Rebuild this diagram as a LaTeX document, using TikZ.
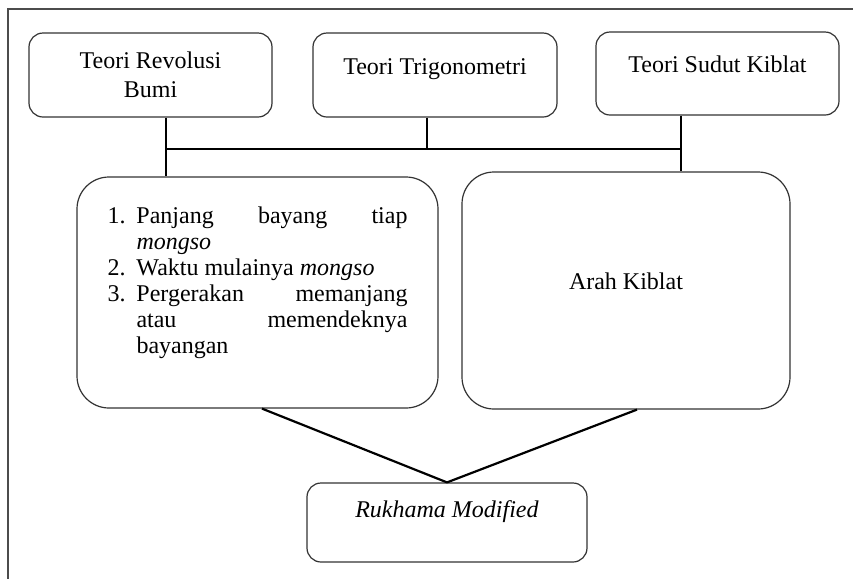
\documentclass[tikz,border=0pt]{standalone}
\usepackage{fontspec}
\setmainfont{Liberation Serif}
\newcommand{\numitem}[1]{\par\hangindent=14.5pt\hangafter=1\noindent\makebox[14.5pt][l]{#1}}
\begin{document}
\begin{tikzpicture}[x=0.5pt,y=-0.5pt,
    font=\fontsize{12pt}{14.5pt}\selectfont,
    teori/.style={draw=black!80,line width=0.6pt,rounded corners=7pt,inner sep=0pt,align=center},
    bigbox/.style={draw=black!80,line width=0.6pt,rounded corners=16pt,inner sep=0pt},
    upper/.style={text height=9pt,text depth=#1}]
  \useasboundingbox (0,0) rectangle (853,579);
  \draw[black!70,line width=0.6pt] (8,579) -- (8,9) -- (853,9);
  % theories
  \node[teori,minimum width=121.5pt,minimum height=42pt] (b1) at (150.5,75) {Teori Revolusi\\Bumi};
  \node[teori,upper=10pt,minimum width=122pt,minimum height=42pt] (b2) at (435,75) {Teori Trigonometri};
  \node[teori,upper=10pt,minimum width=121.5pt,minimum height=41.5pt] (b3) at (717.5,73.5) {Teori Sudut Kiblat};
  % middle row
  \node[bigbox,minimum width=180.5pt,minimum height=115.5pt,text width=150pt,align=justify,
        font=\fontsize{12pt}{13pt}\selectfont] (b4) at (257.5,292.5) {%
    \numitem{1.}Panjang bayang tiap\linebreak\textit{mongso}
    \numitem{2.}Waktu mulainya \textit{mongso}
    \numitem{3.}Pergerakan memanjang\linebreak atau memendeknya\linebreak bayangan
    \par\noindent\rule[-3.6pt]{0pt}{3.6pt}};
  \node[bigbox,upper=10pt,minimum width=164pt,minimum height=118.5pt] (b5) at (626,290.5) {Arah Kiblat};
  % result
  \node[teori,upper=14.5pt,minimum width=140pt,minimum height=39.5pt] (r) at (447,522.5) {\textit{Rukhama Modified}};
  \coordinate (j1) at (166,149);
  \coordinate (j2) at (427,149);
  \coordinate (j3) at (681,149);
  \begin{scope}[line width=1.1pt]
    \draw (j1 |- b1.south) to (j1 |- b4.north);
    \draw (j2 |- b2.south) to (j2);
    \draw (j3 |- b3.south) to (j3 |- b5.north);
    \draw (j1) to (j3);
    \draw ([xshift=2.25pt]b4.south) to (r.north);
    \draw ([xshift=5.5pt]b5.south) to (r.north);
  \end{scope}
\end{tikzpicture}
\end{document}
